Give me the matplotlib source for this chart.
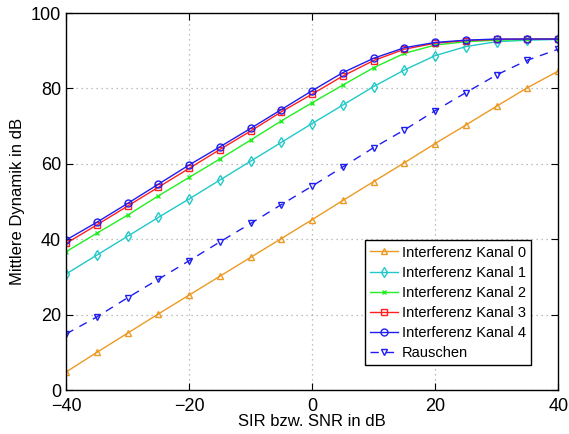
import matplotlib
matplotlib.use('Agg')
import matplotlib.pyplot as plt

plt.rcParams['font.family'] = ['Liberation Sans', 'DejaVu Sans']

sir = [-40, -35, -30, -25, -20, -15, -10, -5, 0, 5, 10, 15, 20, 25, 30, 35, 40]

kanal0 = [4.8, 10.0, 15.1, 20.2, 25.2, 30.2, 35.2, 40.2, 45.2, 50.3, 55.3, 60.3, 65.4, 70.3, 75.3, 80.2, 84.6]
kanal1 = [30.8, 35.8, 40.8, 45.8, 50.7, 55.7, 60.7, 65.7, 70.7, 75.6, 80.5, 84.9, 88.7, 91.1, 92.4, 92.8, 93.0]
kanal2 = [36.7, 41.6, 46.4, 51.5, 56.4, 61.3, 66.3, 71.4, 76.2, 80.9, 85.5, 89.3, 91.5, 92.4, 92.8, 93.0, 93.1]
kanal3 = [38.9, 43.8, 48.8, 53.8, 58.8, 63.8, 68.7, 73.8, 78.5, 83.3, 87.4, 90.4, 92.0, 92.7, 93.0, 93.1, 93.1]
kanal4 = [39.8, 44.5, 49.5, 54.6, 59.7, 64.5, 69.4, 74.4, 79.4, 84.2, 88.0, 90.8, 92.2, 92.8, 93.1, 93.1, 93.1]
rauschen = [14.9, 19.4, 24.5, 29.4, 34.3, 39.3, 44.2, 49.2, 54.1, 59.2, 64.3, 69.0, 74.1, 78.9, 83.6, 87.5, 90.4]

fig = plt.figure(figsize=(5.69, 4.34), dpi=100)
ax = fig.add_axes([0.116, 0.101, 0.865, 0.869])

style = dict(linewidth=1.0, markersize=5, markerfacecolor='none', markeredgewidth=1.0)
ax.plot(sir, kanal0, '-^', color='#EC9A24', label='Interferenz Kanal 0', **style)
ax.plot(sir, kanal1, '-d', color='#22C8C8', label='Interferenz Kanal 1', **style)
ax.plot(sir, kanal2, '-x', color='#22EE22', label='Interferenz Kanal 2', linewidth=1.0, markersize=3.5)
ax.plot(sir, kanal3, '-s', color='#FF2020', label='Interferenz Kanal 3', **style)
ax.plot(sir, kanal4, '-o', color='#1E1EF0', label='Interferenz Kanal 4', **style)
ax.plot(sir, rauschen, '--v', color='#1E1EF0', label='Rauschen', dashes=(6, 5), **style)

ax.set_xlim(-40, 40)
ax.set_ylim(0, 100)
ax.set_xticks([-40, -20, 0, 20, 40])
ax.set_yticks([0, 20, 40, 60, 80, 100])
ax.set_xticklabels(['\u221240', '\u221220', '0', '20', '40'])
ax.tick_params(direction='in', top=True, right=True, labelsize=13, length=5)
ax.tick_params(axis='x', pad=6)
ax.grid(True, linestyle=(0, (1, 3)), color='#AAAAAA', linewidth=0.9)
for s in ax.spines.values():
    s.set_linewidth(1.0)

ax.set_xlabel('SIR bzw. SNR in dB', fontsize=12, labelpad=-1)
ax.set_ylabel('Mittlere Dynamik in dB', fontsize=12, labelpad=4)

leg = ax.legend(loc='lower right', bbox_to_anchor=(0.945, 0.066), borderaxespad=0,
                fontsize=10.5, fancybox=False, edgecolor='black', framealpha=1,
                handlelength=1.9, handletextpad=0.3, borderpad=0.35, labelspacing=0.42)
leg.get_frame().set_linewidth(1.0)

fig.savefig('out.png', dpi=100)
